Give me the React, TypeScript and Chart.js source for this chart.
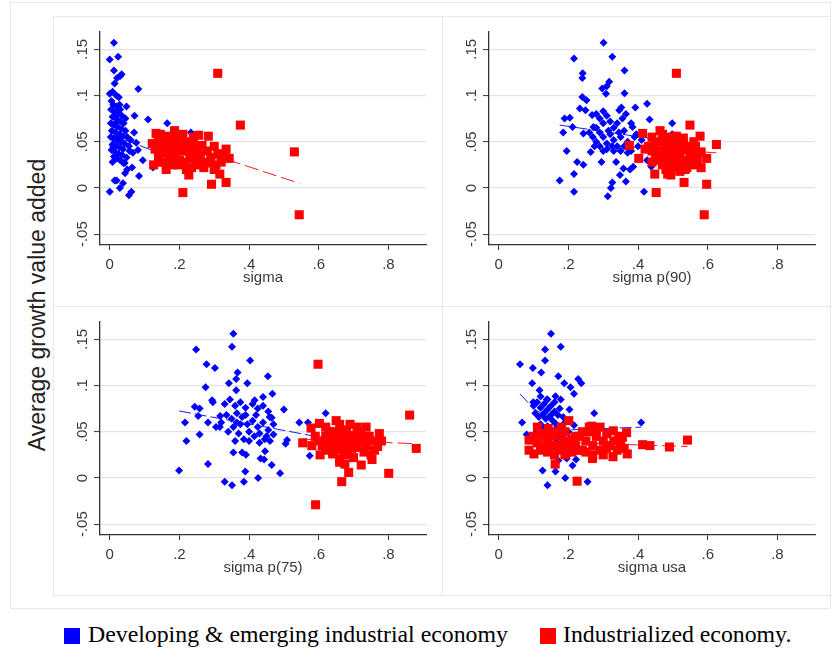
import React, { useEffect, useRef } from "react";
import { Chart, registerables } from "chart.js";

Chart.register(...registerables);

type Pt = [number, number];

const Y_TICKS = [-0.05, 0, 0.05, 0.1, 0.15];
const X_TICKS = [0, 0.2, 0.4, 0.6, 0.8];
const Y_TITLE = "Average growth value added";
const LEGEND_DEV = "Developing & emerging industrial economy";
const LEGEND_IND = "Industrialized economy.";

// ---- sigma ----
const DEV_SIGMA: Pt[] = [
  [0.012, 0.157], [0.0, 0.139], [0.024, 0.142], [0.012, 0.127], [0.034, 0.123], [0.021, 0.119], [0.03, 0.121],
  [0.014, 0.113], [0.082, 0.107], [0.0, 0.102], [0.019, 0.1], [0.008, 0.104], [0.026, 0.098], [0.048, 0.088],
  [0.071, 0.078], [0.11, 0.074], [0.165, 0.07], [0.233, 0.06], [0.07, 0.06], [0.076, 0.049], [0.095, 0.03],
  [0.084, 0.013], [0.008, 0.028], [0.014, 0.008], [0.0, -0.004], [0.038, 0.005], [0.029, 0.0], [0.062, -0.004],
  [0.055, -0.008], [0.043, 0.027], [0.044, 0.016], [0.064, 0.022], [0.124, 0.022], [0.057, 0.04], [0.081, 0.041],
  [0.039, 0.027], [0.02, 0.008], [0.05, 0.02],
  [0.005, 0.094], [0.01, 0.09], [0.02, 0.088], [0.03, 0.085], [0.004, 0.085], [0.015, 0.082], [0.025, 0.08],
  [0.035, 0.078], [0.008, 0.077], [0.018, 0.075], [0.03, 0.072], [0.04, 0.07], [0.003, 0.07], [0.012, 0.068],
  [0.022, 0.066], [0.033, 0.064], [0.045, 0.062], [0.006, 0.062], [0.016, 0.06], [0.028, 0.058], [0.038, 0.056],
  [0.05, 0.055], [0.003, 0.055], [0.012, 0.053], [0.022, 0.051], [0.032, 0.05], [0.042, 0.048], [0.008, 0.047],
  [0.018, 0.045], [0.028, 0.044], [0.038, 0.042], [0.005, 0.041], [0.015, 0.039], [0.025, 0.037], [0.035, 0.036],
  [0.012, 0.034], [0.02, 0.032], [0.03, 0.03], [0.01, 0.045], [0.025, 0.055], [0.015, 0.07], [0.028, 0.09],
  [0.045, 0.075], [0.06, 0.052], [0.055, 0.045], [0.066, 0.038], [0.048, 0.033],
];
const IND_SIGMA: Pt[] = [
  [0.31, 0.124], [0.375, 0.068], [0.53, 0.039], [0.544, -0.029], [0.21, -0.005], [0.292, 0.004], [0.334, 0.006],
  [0.316, 0.015], [0.343, 0.032], [0.334, 0.042], [0.283, 0.056], [0.255, 0.057], [0.186, 0.062], [0.133, 0.059],
  [0.122, 0.048], [0.126, 0.025], [0.162, 0.02], [0.227, 0.014], [0.305, 0.025],
  [0.14, 0.052], [0.15, 0.045], [0.16, 0.038], [0.17, 0.05], [0.18, 0.042], [0.19, 0.035], [0.2, 0.055],
  [0.21, 0.048], [0.22, 0.04], [0.23, 0.032], [0.24, 0.05], [0.25, 0.043], [0.26, 0.036], [0.27, 0.028],
  [0.14, 0.035], [0.155, 0.028], [0.175, 0.03], [0.195, 0.025], [0.215, 0.028], [0.235, 0.022], [0.255, 0.03],
  [0.28, 0.04], [0.29, 0.033], [0.3, 0.045], [0.31, 0.037], [0.32, 0.028], [0.165, 0.056], [0.185, 0.053],
  [0.205, 0.04], [0.225, 0.05], [0.245, 0.038], [0.265, 0.046], [0.13, 0.042], [0.145, 0.058], [0.2, 0.03],
  [0.22, 0.02], [0.18, 0.025], [0.27, 0.022], [0.3, 0.02], [0.24, 0.055], [0.21, 0.058], [0.16, 0.047],
  [0.19, 0.045], [0.23, 0.043], [0.25, 0.025], [0.285, 0.027], [0.33, 0.034], [0.17, 0.033], [0.14, 0.028],
];
const DEV_FIT_SIGMA: Pt[] = [[0.0, 0.058], [0.12, 0.041], [0.235, 0.025]];
const IND_FIT_SIGMA: Pt[] = [[0.12, 0.042], [0.35, 0.029], [0.545, 0.005]];

// ---- sigma p(90) ----
const DEV_P90: Pt[] = [
  [0.301, 0.157], [0.216, 0.14], [0.326, 0.142], [0.361, 0.127], [0.241, 0.124], [0.24, 0.119], [0.317, 0.115],
  [0.31, 0.11], [0.297, 0.1075], [0.361, 0.1025], [0.308, 0.102], [0.24, 0.0985], [0.252, 0.095], [0.426, 0.091],
  [0.392, 0.087], [0.233, 0.086], [0.249, 0.084], [0.268, 0.079], [0.352, 0.087], [0.346, 0.084], [0.189, 0.075],
  [0.204, 0.076], [0.433, 0.074], [0.498, 0.07], [0.185, 0.06], [0.212, 0.066], [0.272, 0.066], [0.384, 0.066],
  [0.243, 0.059], [0.195, 0.04], [0.225, 0.028], [0.243, 0.025], [0.264, 0.039], [0.295, 0.028], [0.337, 0.028],
  [0.358, 0.021], [0.348, 0.014], [0.377, 0.02], [0.386, 0.023], [0.175, 0.008], [0.216, 0.015], [0.216, -0.004],
  [0.326, 0.006], [0.322, 0.0], [0.313, -0.009], [0.365, 0.007], [0.417, -0.004], [0.426, 0.03], [0.438, 0.023],
  [0.498, 0.058], [0.395, 0.058], [0.41, 0.052],
  [0.28, 0.08], [0.29, 0.075], [0.3, 0.07], [0.31, 0.078], [0.32, 0.072], [0.33, 0.065], [0.27, 0.055],
  [0.28, 0.05], [0.29, 0.06], [0.3, 0.055], [0.31, 0.048], [0.32, 0.058], [0.33, 0.052], [0.34, 0.045],
  [0.35, 0.055], [0.36, 0.062], [0.37, 0.05], [0.38, 0.04], [0.29, 0.045], [0.3, 0.04], [0.31, 0.042],
  [0.33, 0.04], [0.35, 0.04], [0.36, 0.045], [0.37, 0.038], [0.39, 0.055], [0.4, 0.045], [0.28, 0.065],
  [0.34, 0.07], [0.355, 0.075], [0.365, 0.08], [0.3, 0.083], [0.315, 0.062], [0.325, 0.045], [0.345, 0.06],
  [0.26, 0.06], [0.275, 0.045], [0.38, 0.07],
];
const IND_P90: Pt[] = [
  [0.51, 0.124], [0.549, 0.068], [0.625, 0.047], [0.59, -0.029], [0.452, -0.005], [0.597, 0.004], [0.532, 0.006],
  [0.448, 0.015], [0.494, 0.014], [0.597, 0.032], [0.581, 0.022], [0.581, 0.039], [0.578, 0.056], [0.375, 0.046],
  [0.402, 0.032], [0.413, 0.059], [0.463, 0.062],
  [0.44, 0.055], [0.45, 0.048], [0.46, 0.04], [0.47, 0.052], [0.48, 0.045], [0.49, 0.038], [0.5, 0.05],
  [0.51, 0.043], [0.52, 0.036], [0.53, 0.048], [0.54, 0.041], [0.55, 0.034], [0.46, 0.03], [0.47, 0.025],
  [0.48, 0.032], [0.49, 0.028], [0.5, 0.022], [0.51, 0.03], [0.52, 0.025], [0.53, 0.03], [0.54, 0.022],
  [0.55, 0.045], [0.56, 0.038], [0.57, 0.03], [0.44, 0.04], [0.43, 0.045], [0.42, 0.042], [0.47, 0.058],
  [0.49, 0.055], [0.51, 0.056], [0.53, 0.054], [0.56, 0.05], [0.45, 0.035], [0.5, 0.035], [0.48, 0.02],
  [0.52, 0.018], [0.545, 0.028], [0.565, 0.045], [0.475, 0.038], [0.505, 0.04], [0.495, 0.047], [0.525, 0.042],
  [0.46, 0.05], [0.515, 0.05], [0.44, 0.028], [0.535, 0.02], [0.56, 0.025], [0.485, 0.015],
];
const DEV_FIT_P90: Pt[] = [[0.175, 0.068], [0.5, 0.05]];
const IND_FIT_P90: Pt[] = [[0.375, 0.044], [0.625, 0.038]];

// ---- sigma p(75) ----
const DEV_P75: Pt[] = [
  [0.355, 0.156], [0.351, 0.142], [0.248, 0.139], [0.403, 0.127], [0.278, 0.123], [0.302, 0.119], [0.367, 0.114],
  [0.454, 0.11], [0.363, 0.107], [0.342, 0.1025], [0.395, 0.1025], [0.275, 0.098], [0.363, 0.095], [0.467, 0.091],
  [0.294, 0.084], [0.296, 0.082], [0.416, 0.084], [0.44, 0.0875], [0.5, 0.074], [0.244, 0.077], [0.258, 0.075],
  [0.216, 0.06], [0.254, 0.067], [0.22, 0.04], [0.258, 0.047], [0.282, 0.06], [0.317, 0.067], [0.459, 0.066],
  [0.544, 0.06], [0.569, 0.06], [0.62, 0.07], [0.509, 0.041], [0.505, 0.037], [0.574, 0.024], [0.199, 0.008],
  [0.282, 0.015], [0.33, -0.004], [0.351, -0.008], [0.385, -0.004], [0.389, 0.007], [0.426, 0.0], [0.489, 0.005],
  [0.355, 0.0275], [0.38, 0.0275], [0.391, 0.025], [0.433, 0.021], [0.443, 0.02], [0.446, 0.029], [0.465, 0.014],
  [0.316, 0.055],
  [0.33, 0.08], [0.345, 0.085], [0.36, 0.078], [0.375, 0.082], [0.39, 0.076], [0.41, 0.08], [0.425, 0.075],
  [0.44, 0.078], [0.455, 0.072], [0.465, 0.065], [0.335, 0.068], [0.35, 0.064], [0.365, 0.06], [0.38, 0.066],
  [0.395, 0.058], [0.41, 0.062], [0.425, 0.055], [0.44, 0.06], [0.455, 0.052], [0.47, 0.047], [0.34, 0.05],
  [0.355, 0.055], [0.37, 0.048], [0.385, 0.042], [0.4, 0.05], [0.415, 0.045], [0.43, 0.048], [0.445, 0.042],
  [0.46, 0.04], [0.36, 0.04], [0.375, 0.058], [0.32, 0.06], [0.305, 0.055], [0.4, 0.04], [0.43, 0.038],
  [0.45, 0.045], [0.47, 0.058], [0.365, 0.07], [0.39, 0.068], [0.42, 0.068],
];
const IND_P75: Pt[] = [
  [0.598, 0.123], [0.861, 0.068], [0.88, 0.032], [0.591, -0.029], [0.666, -0.004], [0.686, 0.006], [0.801, 0.005],
  [0.722, 0.014], [0.66, 0.017], [0.753, 0.02], [0.554, 0.038], [0.578, 0.054], [0.602, 0.059], [0.736, 0.055],
  [0.774, 0.048], [0.769, 0.034], [0.604, 0.025], [0.6, 0.04],
  [0.62, 0.055], [0.64, 0.05], [0.66, 0.058], [0.68, 0.052], [0.7, 0.046], [0.72, 0.042], [0.74, 0.04],
  [0.62, 0.045], [0.63, 0.038], [0.65, 0.042], [0.67, 0.036], [0.69, 0.04], [0.71, 0.033], [0.73, 0.028],
  [0.75, 0.025], [0.62, 0.03], [0.64, 0.026], [0.66, 0.03], [0.68, 0.025], [0.7, 0.022], [0.65, 0.062],
  [0.67, 0.045], [0.69, 0.058], [0.71, 0.055], [0.63, 0.05], [0.61, 0.035], [0.655, 0.034], [0.675, 0.028],
  [0.695, 0.032], [0.715, 0.045], [0.735, 0.035], [0.76, 0.03], [0.78, 0.04], [0.645, 0.045], [0.665, 0.05],
  [0.685, 0.045], [0.705, 0.038], [0.64, 0.033], [0.66, 0.02], [0.675, 0.015], [0.72, 0.05], [0.59, 0.045],
  [0.58, 0.035], [0.745, 0.045], [0.765, 0.04],
];
const DEV_FIT_P75: Pt[] = [[0.199, 0.0725], [0.62, 0.043]];
const IND_FIT_P75: Pt[] = [[0.554, 0.042], [0.88, 0.037]];

// ---- sigma usa ----
const DEV_USA: Pt[] = [
  [0.15, 0.156], [0.178, 0.142], [0.133, 0.139], [0.133, 0.127], [0.061, 0.123], [0.098, 0.119], [0.122, 0.114],
  [0.171, 0.11], [0.228, 0.107], [0.237, 0.1025], [0.096, 0.1025], [0.188, 0.1025], [0.206, 0.098], [0.117, 0.095],
  [0.216, 0.091], [0.163, 0.0885], [0.178, 0.085], [0.138, 0.085], [0.099, 0.082], [0.203, 0.074], [0.274, 0.07],
  [0.067, 0.06], [0.409, 0.06], [0.08, 0.047], [0.185, 0.066], [0.216, 0.057], [0.126, 0.008], [0.163, 0.007],
  [0.14, -0.008], [0.191, 0.0], [0.255, -0.004], [0.212, 0.0135], [0.222, 0.02], [0.195, 0.021], [0.171, 0.019],
  [0.1, 0.078], [0.11, 0.082], [0.12, 0.076], [0.13, 0.08], [0.14, 0.074], [0.15, 0.078], [0.16, 0.072],
  [0.17, 0.068], [0.105, 0.07], [0.115, 0.066], [0.125, 0.068], [0.135, 0.064], [0.145, 0.066], [0.155, 0.062],
  [0.165, 0.058], [0.12, 0.058], [0.13, 0.054], [0.14, 0.056], [0.15, 0.05], [0.16, 0.052], [0.15, 0.068],
  [0.16, 0.082], [0.14, 0.085], [0.12, 0.088], [0.175, 0.075], [0.19, 0.06], [0.2, 0.05], [0.18, 0.045],
  [0.17, 0.04], [0.19, 0.03], [0.2, 0.025], [0.165, 0.03], [0.14, 0.045], [0.11, 0.05], [0.13, 0.07],
];
const IND_USA: Pt[] = [
  [0.542, 0.041], [0.49, 0.0335], [0.434, 0.035], [0.413, 0.036], [0.367, 0.049], [0.355, 0.044], [0.369, 0.026],
  [0.328, 0.023], [0.329, 0.051], [0.201, 0.062], [0.111, 0.055], [0.142, 0.0535], [0.087, 0.041], [0.087, 0.03],
  [0.101, 0.026], [0.162, 0.015], [0.225, -0.0035], [0.269, 0.021], [0.267, 0.056], [0.291, 0.055],
  [0.1, 0.045], [0.11, 0.038], [0.12, 0.048], [0.13, 0.034], [0.14, 0.042], [0.15, 0.036], [0.16, 0.046],
  [0.17, 0.03], [0.18, 0.04], [0.19, 0.05], [0.2, 0.034], [0.21, 0.028], [0.12, 0.03], [0.14, 0.028],
  [0.16, 0.035], [0.18, 0.055], [0.17, 0.05], [0.19, 0.025], [0.2, 0.04], [0.22, 0.035], [0.23, 0.045],
  [0.24, 0.03], [0.25, 0.04], [0.26, 0.05], [0.27, 0.035], [0.28, 0.045], [0.29, 0.03], [0.3, 0.04],
  [0.31, 0.048], [0.32, 0.035], [0.33, 0.04], [0.34, 0.03], [0.35, 0.035], [0.25, 0.028], [0.27, 0.025],
  [0.3, 0.025], [0.26, 0.055], [0.28, 0.052], [0.22, 0.045], [0.24, 0.05], [0.15, 0.048], [0.13, 0.045],
  [0.21, 0.042], [0.23, 0.03], [0.36, 0.032], [0.185, 0.032], [0.16, 0.025], [0.31, 0.032], [0.345, 0.045],
];
const DEV_FIT_USA: Pt[] = [[0.061, 0.091], [0.1, 0.075], [0.2, 0.052], [0.409, 0.055]];
const IND_FIT_USA: Pt[] = [[0.087, 0.04], [0.3, 0.037], [0.542, 0.034]];

const BLUE = "#0000ff";
const RED = "#ff0000";
const AXIS = "#333333";
const TXT = "#3a3a3a";
const GRID = "#e4e4e4";
const SANS = "Arial, 'Liberation Sans', sans-serif";
const SERIF = "'Liberation Serif', 'DejaVu Serif', serif";

const fmt = (v: number): string => {
  if (Math.abs(v) < 1e-9) return "0";
  const s = String(Math.round(Math.abs(v) * 1000) / 1000).replace(/^0/, "");
  return (v < 0 ? "-" : "") + s;
};

const toXY = (pts: Pt[]) => pts.map(([x, y]) => ({ x, y }));

type PanelProps = {
  left: number;
  top: number;
  title: string;
  dev: Pt[];
  ind: Pt[];
  devFit: Pt[];
  indFit: Pt[];
};

const CW = 388;
const CH = 289;

function Panel({ left, top, title, dev, ind, devFit, indFit }: PanelProps) {
  const ref = useRef<HTMLCanvasElement | null>(null);
  useEffect(() => {
    if (!ref.current) return;
    const font = { family: SANS, size: 15 };
    const chart = new Chart(ref.current, {
      type: "scatter",
      data: {
        datasets: [
          {
            data: toXY(devFit), showLine: true, borderColor: BLUE, borderWidth: 0.9, borderDash: [12, 4],
            pointRadius: 0, fill: false, order: 4,
          } as any,
          {
            data: toXY(indFit), showLine: true, borderColor: RED, borderWidth: 0.9, borderDash: [14, 5],
            pointRadius: 0, fill: false, order: 3,
          } as any,
          {
            data: toXY(dev), pointStyle: "rectRot", pointRadius: 4, backgroundColor: BLUE,
            borderWidth: 0, order: 2,
          } as any,
          {
            data: toXY(ind), pointStyle: "rect", pointRadius: 6.4, backgroundColor: RED,
            borderWidth: 0, order: 1,
          } as any,
        ],
      },
      options: {
        animation: false,
        responsive: false,
        maintainAspectRatio: false,
        events: [],
        layout: { padding: { top: 16, right: CW - 47 - 326, left: 0, bottom: 0 } },
        plugins: { legend: { display: false }, tooltip: { enabled: false } },
        scales: {
          x: {
            type: "linear",
            min: -0.028,
            max: 0.908,
            afterBuildTicks: (s: any) => { s.ticks = X_TICKS.map((v) => ({ value: v })); },
            afterFit: (s: any) => { s.height = 60; },
            grid: { drawOnChartArea: false, tickLength: 5, tickColor: AXIS, tickWidth: 1 },
            border: { color: AXIS, width: 1.3 },
            ticks: {
              font, color: TXT, padding: 6, minRotation: 0, maxRotation: 0, autoSkip: false,
              callback: (v: any) => fmt(Number(v)),
            },
            title: { display: true, text: title, font, color: TXT, padding: { top: 0, bottom: 18 } },
          },
          y: {
            type: "linear",
            min: -0.0617,
            max: 0.1687,
            afterBuildTicks: (s: any) => { s.ticks = Y_TICKS.map((v) => ({ value: v })); },
            afterFit: (s: any) => { s.width = 47; },
            grid: { color: GRID, lineWidth: 1.2, tickLength: 6, tickColor: AXIS, tickWidth: 1 },
            border: { color: AXIS, width: 1.3 },
            ticks: {
              font, color: TXT, padding: -1.5, minRotation: 90, maxRotation: 90, crossAlign: "center",
              autoSkip: false, callback: (v: any) => fmt(Number(v)),
            },
          },
        },
      } as any,
    });
    return () => chart.destroy();
  }, [title, dev, ind, devFit, indFit]);

  return (
    <canvas
      ref={ref}
      width={CW}
      height={CH}
      style={{ position: "absolute", left, top, width: CW, height: CH }}
    />
  );
}

const boxStyle = (left: number, top: number, width: number, height: number): React.CSSProperties => ({
  position: "absolute", left, top, width, height, boxSizing: "border-box", border: "1px solid #e9e9e9",
});

export default function App() {
  return (
    <div style={{ position: "absolute", left: 0, top: 0, width: 832, height: 653, background: "#fff" }}>
      <div style={boxStyle(10, 2, 821, 607)} />
      <div style={boxStyle(53, 16, 390, 291)} />
      <div style={boxStyle(442, 16, 389, 291)} />
      <div style={boxStyle(53, 306, 390, 290)} />
      <div style={boxStyle(442, 306, 389, 290)} />
      <Panel left={53} top={16} title="sigma" dev={DEV_SIGMA} ind={IND_SIGMA} devFit={DEV_FIT_SIGMA} indFit={IND_FIT_SIGMA} />
      <Panel left={442} top={16} title="sigma p(90)" dev={DEV_P90} ind={IND_P90} devFit={DEV_FIT_P90} indFit={IND_FIT_P90} />
      <Panel left={53} top={306} title="sigma p(75)" dev={DEV_P75} ind={IND_P75} devFit={DEV_FIT_P75} indFit={IND_FIT_P75} />
      <Panel left={442} top={306} title="sigma usa" dev={DEV_USA} ind={IND_USA} devFit={DEV_FIT_USA} indFit={IND_FIT_USA} />
      <div
        style={{
          position: "absolute", left: 37, top: 305, transform: "translate(-50%, -50%) rotate(-90deg)",
          whiteSpace: "nowrap", fontFamily: SANS, fontSize: 23, color: "#222", lineHeight: 1,
        }}
      >
        {Y_TITLE}
      </div>
      <div style={{ position: "absolute", left: 64, top: 628, width: 16, height: 16, background: BLUE }} />
      <div
        style={{
          position: "absolute", left: 88, top: 623, fontFamily: SERIF, fontSize: 23.8, lineHeight: 1,
          color: "#000", whiteSpace: "nowrap",
        }}
      >
        {LEGEND_DEV}
      </div>
      <div style={{ position: "absolute", left: 540, top: 628, width: 16, height: 16, background: RED }} />
      <div
        style={{
          position: "absolute", left: 563, top: 623, fontFamily: SERIF, fontSize: 23.8, lineHeight: 1,
          color: "#000", whiteSpace: "nowrap",
        }}
      >
        {LEGEND_IND}
      </div>
    </div>
  );
}
